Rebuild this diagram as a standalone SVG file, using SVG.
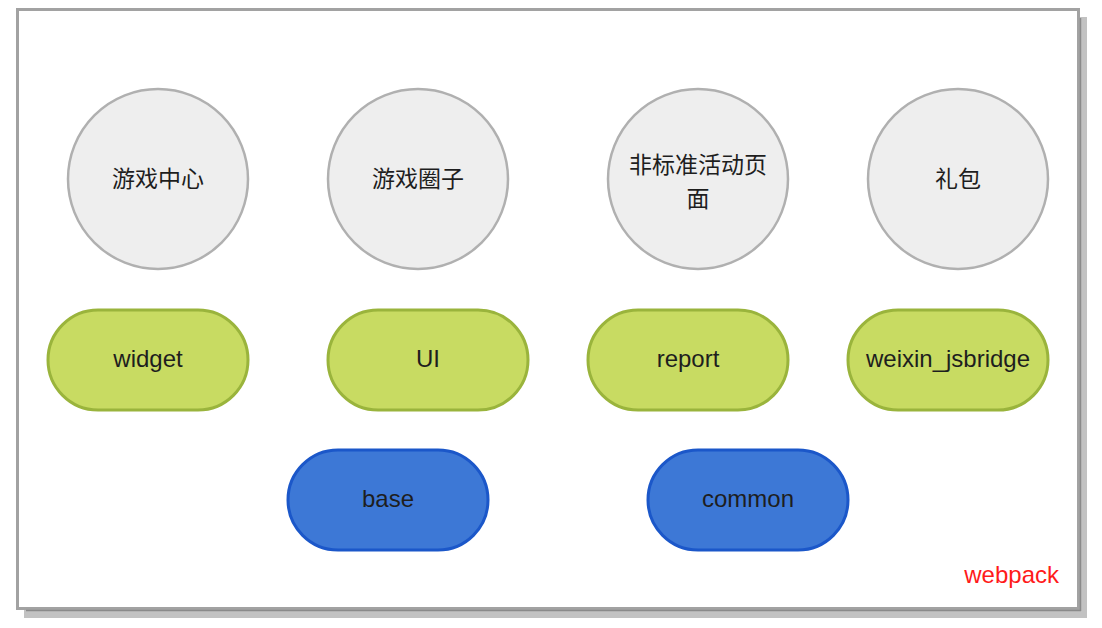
<svg xmlns="http://www.w3.org/2000/svg" width="1102" height="628" viewBox="0 0 1102 628">
<defs>
<style>
.circ{fill:#eeeeee;stroke:#b0b0b0;stroke-width:2.5}
.green{fill:#c8db62;stroke:#9ab43c;stroke-width:3}
.blue{fill:#3d78d6;stroke:#1b57c9;stroke-width:3}
.t{font-family:"Liberation Sans","Noto Sans CJK SC",Arial,sans-serif;font-size:24px;fill:#1e1e1e;text-anchor:middle}
.cjk{font-family:"Noto Sans CJK SC","Liberation Sans",sans-serif;font-size:23px;fill:#1e1e1e;text-anchor:middle}
</style>
</defs>
<rect width="1102" height="628" fill="#ffffff"/>
<g id="frame">
<rect x="24" y="17" width="1063" height="601" fill="#c2c2c2"/>
<rect x="17.5" y="9.5" width="1061" height="599" fill="#ffffff" stroke="#a2a2a2" stroke-width="3"/>
<line x1="1080.5" y1="18" x2="1080.5" y2="611" stroke="#8a8a8a" stroke-width="1.5"/>
<line x1="26" y1="610.5" x2="1081" y2="610.5" stroke="#8a8a8a" stroke-width="1.5"/>
</g>
<g id="connectors"></g>
<g id="n1"><circle class="circ" cx="158" cy="179" r="90"/><text class="cjk" x="158" y="187">游戏中心</text></g>
<g id="n2"><circle class="circ" cx="418" cy="179" r="90"/><text class="cjk" x="418" y="187">游戏圈子</text></g>
<g id="n3"><circle class="circ" cx="698" cy="179" r="90"/><text class="cjk"><tspan x="698" y="173">非标准活动页</tspan><tspan x="698" y="207">面</tspan></text></g>
<g id="n4"><circle class="circ" cx="958" cy="179" r="90"/><text class="cjk" x="958" y="187">礼包</text></g>
<g id="widget"><rect class="green" x="48" y="310" width="200" height="100" rx="50"/><text class="t" x="148" y="367">widget</text></g>
<g id="ui"><rect class="green" x="328" y="310" width="200" height="100" rx="50"/><text class="t" x="428" y="367">UI</text></g>
<g id="report"><rect class="green" x="588" y="310" width="200" height="100" rx="50"/><text class="t" x="688" y="367">report</text></g>
<g id="weixin"><rect class="green" x="848" y="310" width="200" height="100" rx="50"/><text class="t" x="948" y="367">weixin_jsbridge</text></g>
<g id="base"><rect class="blue" x="288" y="450" width="200" height="100" rx="50"/><text class="t" x="388" y="507">base</text></g>
<g id="common"><rect class="blue" x="648" y="450" width="200" height="100" rx="50"/><text class="t" x="748" y="507">common</text></g>
<text x="1059" y="583" style="font-family:'Liberation Sans',Arial,sans-serif;font-size:24px;fill:#ff1a1a;text-anchor:end">webpack</text>
</svg>
